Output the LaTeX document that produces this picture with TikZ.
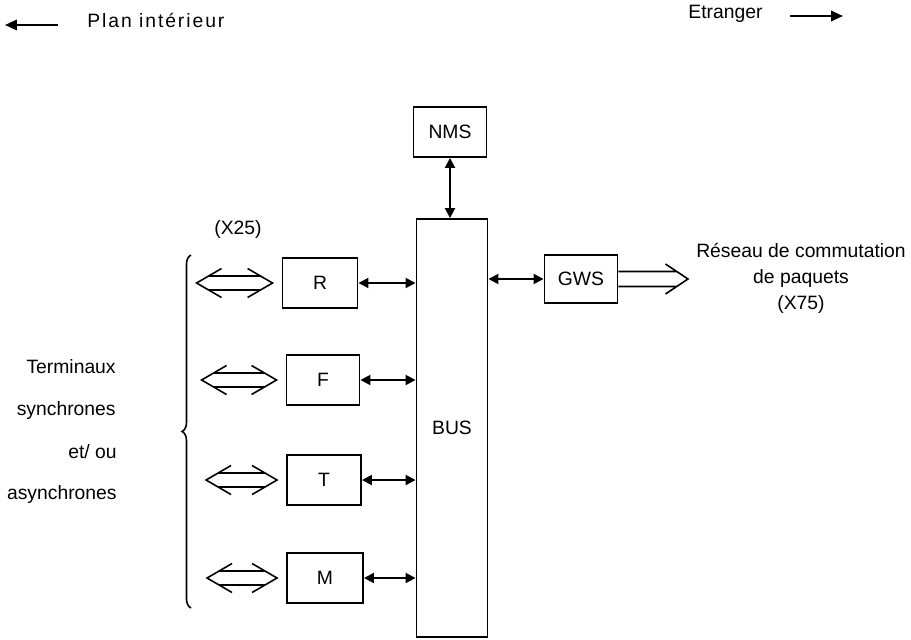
\documentclass[tikz,border=0pt]{standalone}
\usepackage{fontspec}
\setmainfont{Liberation Sans}
\usepackage{tikz}
\usetikzlibrary{arrows.meta,decorations.pathreplacing,calc}
\tikzset{
  tele box/.style={draw,line width=1.1pt,minimum width=1.46cm,minimum height=1cm,inner sep=0pt},
  tele text/.style={inner sep=0pt},
  tele link/.style={line width=1.1pt,{Triangle[length=2mm,width=2mm]}-{Triangle[length=2mm,width=2mm]}},
  tele pipe/.style={line width=.9pt,to path={let \p1=(\tikztostart),\p2=(\tikztotarget) in
    (\x1+.5cm,\y1+.29cm) -- (\x1,\y1) -- (\x1+.5cm,\y1-.29cm)
    (\x2-.5cm,\y2+.29cm) -- (\x2,\y2) -- (\x2-.5cm,\y2-.29cm)
    (\x1+.24cm,\y1+.14cm) -- (\x2-.24cm,\y2+.14cm)
    (\x1+.24cm,\y1-.14cm) -- (\x2-.24cm,\y2-.14cm)}},
  tele pipe out/.style={line width=.9pt,to path={let \p1=(\tikztostart),\p2=(\tikztotarget) in
    (\x2-.45cm,\y2+.3cm) -- (\x2,\y2) -- (\x2-.45cm,\y2-.3cm)
    (\x1,\y1+.15cm) -- (\x2-.22cm,\y2+.15cm)
    (\x1,\y1-.15cm) -- (\x2-.22cm,\y2-.15cm)}},
  tele dir/.style={line width=1.1pt,-{Triangle[length=2.4mm,width=2.1mm]}}
}

\begin{document}
\begin{tikzpicture}[x=.02cm,y=-.02cm,font=\fontsize{11}{14.8}\selectfont]
  \useasboundingbox (0,0) rectangle (911,639);
  % heading
  \coordinate (pl0) at (58,25); \coordinate (pl1) at (5,25);
  \draw[tele dir] (pl0) -- (pl1);
  \node[tele text,anchor=west] (plan) at (87,20) {\addfontfeature{LetterSpace=10}Plan intérieur};
  \node[tele text,anchor=west] (etr) at (688,14) {Etranger};
  \coordinate (et0) at (790,16); \coordinate (et1) at (843,16);
  \draw[tele dir] (et0) -- (et1);
  % central part
  \node[tele box] (nms) at (450,132) {NMS};
  \node[tele box,minimum width=1.42cm,minimum height=8.36cm] (bus) at (452,428) {BUS};
  \draw[tele link] (nms.south) -- (bus.north -| nms.south);
  \node[tele box,minimum height=.96cm] (gws) at (581,279) {GWS};
  \draw[tele link] (bus.east |- gws.west) -- (gws.west);
  \coordinate (net) at (688,279);
  \draw[tele pipe out] (gws.east) to (net);
  \node[align=center] (reseau) at (801,278) {Réseau de commutation\\de paquets\\(X75)};
  % terminals
  \node[tele box,minimum width=1.5cm] (R) at (320,283) {R};
  \node[tele box] (F) at (323,380) {F};
  \node[tele box,minimum width=1.48cm] (T) at (324,480) {T};
  \node[tele box,minimum width=1.52cm] (M) at (325,578) {M};
  \foreach \b/\d in {R/1.7,F/1.68,T/1.6,M/1.58}{
    \draw[tele link] (\b.east) -- (bus.west |- \b.east);
    \draw[tele pipe] ([xshift=-\d cm]\b.west) to ([xshift=-.18cm]\b.west);
  }
  \node (x25) at (238,229) {(X25)};
  \draw[line width=.9pt,decorate,decoration={brace,amplitude=.18cm}] (191,608) -- (191,255);
  \node[tele text,anchor=east] (term) at (116,367) {Terminaux};
  \node[tele text,anchor=east] (sync) at (116,410) {synchrones};
  \node[tele text,anchor=east] (etou) at (117,452) {et/ ou};
  \node[tele text,anchor=east] (async) at (117,494) {asynchrones};
\end{tikzpicture}
\end{document}
